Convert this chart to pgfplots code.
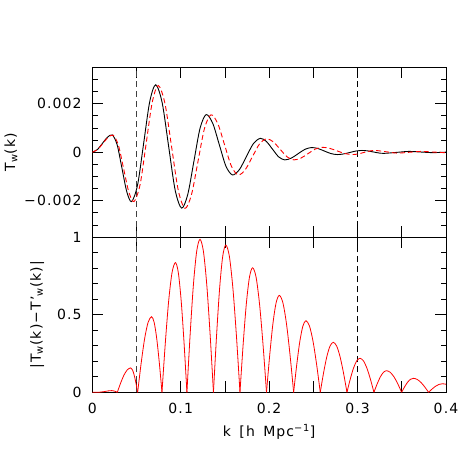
\documentclass[border=0pt]{standalone}
\usepackage{fontspec}
\setmainfont{DejaVu Sans}[LetterSpace=8]
\usepackage{pgfplots}
\pgfplotsset{compat=1.18}
\pgfplotsset{
  myaxis/.style={
    scale only axis, width=353.7bp, xmin=0, xmax=0.4,
    font=\fontsize{14bp}{16bp}\selectfont,
    axis line style={line width=0.8bp, black},
    every tick/.style={line width=0.7bp, black},
    major tick length=11bp, minor tick length=5.5bp,
    tick align=inside,
    xtick={0,0.05,0.1,0.15,0.2,0.25,0.3,0.35,0.4},
    scaled y ticks=false, scaled x ticks=false,
    tick label style={inner sep=0pt},
    yticklabel style={anchor=east, xshift=-10.5bp},
    xticklabel style={anchor=north, yshift=-10.7bp},
    ylabel style={anchor=center},
  },
  arch/.style={red, line width=0.8bp, smooth, mark=none},
}
\begin{document}
\begin{tikzpicture}
\useasboundingbox (0,0) rectangle (463bp,463bp);
% top panel
\begin{axis}[myaxis,
  at={(92.3bp,395.7bp)}, anchor=north west, height=169.7bp,
  ymin=-0.0035, ymax=0.0035,
  ytick={-0.002,0,0.002},
  yticklabels={−0.002,0,0.002},
  minor ytick={-0.003,-0.0025,-0.0015,-0.001,-0.0005,0.0005,0.001,0.0015,0.0025,0.003},
  xticklabels={},
  ylabel={T\textsubscript{w}(k)},
  ylabel style={at={(axis description cs:-0.23,0.5)}},
]
\addplot[black!75, line width=0.8bp, dash pattern=on 6bp off 4bp] coordinates {(0.05,-0.0035) (0.05,0.0035)};
\addplot[black, line width=0.8bp, dash pattern=on 6bp off 4bp] coordinates {(0.3,-0.0035) (0.3,0.0035)};
\addplot[black, line width=0.9bp, smooth, mark=none] coordinates {
(0,0) (0.00565,0.000104) (0.0113,0.000355) (0.01695,0.000606) (0.0226,0.00071)
(0.02808,0.000307) (0.03355,-0.000665) (0.03903,-0.001637) (0.0445,-0.00204)
(0.0513,-0.001334) (0.0581,0.00037) (0.0649,0.002074) (0.0717,0.00278)
(0.07903,0.002035) (0.08635,0.000235) (0.09368,-0.001565) (0.101,-0.00231)
(0.10795,-0.001745) (0.1149,-0.00038) (0.12185,0.000985) (0.1288,0.00155)
(0.13623,0.001185) (0.14365,0.000305) (0.15108,-0.000575) (0.1585,-0.00094)
(0.16638,-0.000719) (0.17425,-0.000185) (0.18213,0.000349) (0.190,0.00057)
(0.19688,0.00044) (0.20375,0.000125) (0.21063,-0.00019) (0.2175,-0.00032)
(0.22513,-0.000245) (0.23275,-0.000065) (0.24038,0.000115) (0.248,0.00019)
(0.25525,0.000148) (0.2625,0.000045) (0.26975,-0.000058) (0.277,-0.0001)
(0.284,-0.000075) (0.291,-0.000015) (0.298,0.000045) (0.305,0.00007)
(0.31125,0.0000524) (0.3175,0.00001) (0.32375,-0.0000324) (0.330,-0.00005)
(0.344,-0.00001) (0.358,0.00003) (0.3715,0.000005) (0.385,-0.00002) (0.4,0)
};
\addplot[red, line width=0.9bp, smooth, mark=none, dash pattern=on 5bp off 3bp] coordinates {
(0,0) (0.00588,0.000102) (0.01175,0.00035) (0.01763,0.000598) (0.0235,0.0007)
(0.02943,0.000299) (0.03535,-0.00067) (0.04128,-0.001639) (0.0472,-0.00204)
(0.05405,-0.001339) (0.0609,0.000355) (0.06775,0.002049) (0.0746,0.00275)
(0.08215,0.002008) (0.0897,0.000215) (0.09725,-0.001578) (0.1048,-0.00232)
(0.11215,-0.001755) (0.1195,-0.00039) (0.12685,0.000975) (0.1342,0.00154)
(0.1419,0.001177) (0.1496,0.0003) (0.1573,-0.000577) (0.165,-0.00094)
(0.173,-0.000722) (0.181,-0.000195) (0.189,0.000332) (0.197,0.00055)
(0.20475,0.000423) (0.2125,0.000115) (0.22025,-0.000193) (0.228,-0.00032)
(0.236,-0.000244) (0.244,-0.00006) (0.252,0.000124) (0.26,0.0002)
(0.2685,0.000156) (0.277,0.00005) (0.2855,-0.000056) (0.294,-0.0001)
(0.3005,-0.000075) (0.307,-0.000015) (0.3135,0.000045) (0.32,0.00007)
(0.3325,0.000015) (0.345,-0.00004) (0.3585,-0.000005) (0.372,0.00003)
(0.385,0.000005) (0.398,-0.00002) (0.4,-0.00002)
};
\end{axis}
% bottom panel
\begin{axis}[myaxis,
  at={(92.3bp,226bp)}, anchor=north west, height=155.3bp,
  ymin=0, ymax=1,
  ytick={0,0.5,1},
  yticklabels={0,0.5,1},
  minor ytick={0.1,0.2,0.3,0.4,0.6,0.7,0.8,0.9},
  xticklabels={0,,0.1,,0.2,,0.3,,0.4},
  ylabel={|T\textsubscript{w}(k)−T'\textsubscript{w}(k)|},
  ylabel style={at={(axis description cs:-0.156,0.5)}},
  xlabel={k\hspace{0.6em}[h\hspace{0.6em}Mpc\textsuperscript{−1}]},
  xlabel style={at={(axis description cs:0.5,-0.256)}, anchor=center},
]
\addplot[black!75, line width=0.8bp, dash pattern=on 6bp off 4bp] coordinates {(0.05,0) (0.05,1)};
\addplot[black, line width=0.8bp, dash pattern=on 6bp off 4bp] coordinates {(0.3,0) (0.3,1)};
\addplot[arch] coordinates {(0,0) (0.008,0.0005) (0.013,0.004) (0.018,0.009) (0.022,0.011) (0.025,0.008) (0.0283,0)};
\addplot[arch] coordinates {(0.0283,0) (0.03208,0.0601) (0.03585,0.1110) (0.03963,0.1451) (0.0434,0.157) (0.04538,0.1451) (0.04735,0.1110) (0.04933,0.0601) (0.0513,0)};
\addplot[arch] coordinates {(0.0513,0) (0.05523,0.1864) (0.05915,0.3444) (0.06308,0.4499) (0.067,0.487) (0.06995,0.4499) (0.0729,0.3444) (0.07585,0.1864) (0.0788,0)};
\addplot[arch] coordinates {(0.0788,0) (0.0826,0.3196) (0.0864,0.5904) (0.0902,0.7715) (0.094,0.835) (0.09725,0.7715) (0.1005,0.5904) (0.10375,0.3196) (0.107,0)};
\addplot[arch] coordinates {(0.107,0) (0.1107,0.3770) (0.1144,0.6965) (0.1181,0.9100) (0.1218,0.985) (0.1256,0.9100) (0.1294,0.6965) (0.1332,0.3770) (0.137,0)};
\addplot[arch] coordinates {(0.137,0) (0.1405,0.3628) (0.144,0.6703) (0.1475,0.8759) (0.151,0.948) (0.155,0.8759) (0.159,0.6703) (0.163,0.3628) (0.167,0)};
\addplot[arch] coordinates {(0.167,0) (0.17058,0.3069) (0.17415,0.5671) (0.17773,0.7410) (0.1813,0.802) (0.18523,0.7410) (0.18915,0.5671) (0.19308,0.3069) (0.197,0)};
\addplot[arch] coordinates {(0.197,0) (0.20063,0.2388) (0.20425,0.4412) (0.20788,0.5765) (0.2115,0.624) (0.21555,0.5765) (0.2196,0.4412) (0.22365,0.2388) (0.2277,0)};
\addplot[arch] coordinates {(0.2277,0) (0.23118,0.1764) (0.23465,0.3260) (0.23813,0.4259) (0.2416,0.461) (0.24565,0.4259) (0.2497,0.3260) (0.25375,0.1764) (0.2578,0)};
\addplot[arch] coordinates {(0.2578,0) (0.26148,0.1232) (0.26515,0.2277) (0.26883,0.2975) (0.2725,0.322) (0.27638,0.2975) (0.28025,0.2277) (0.28413,0.1232) (0.288,0)};
\addplot[arch] coordinates {(0.288,0) (0.29168,0.0838) (0.29535,0.1549) (0.29903,0.2023) (0.3027,0.219) (0.30665,0.2023) (0.3106,0.1549) (0.31455,0.0838) (0.3185,0)};
\addplot[arch] coordinates {(0.3185,0) (0.32208,0.0532) (0.32565,0.0983) (0.32923,0.1284) (0.3328,0.139) (0.337,0.1284) (0.3413,0.0983) (0.3456,0.0532) (0.3498,0)};
\addplot[arch] coordinates {(0.3498,0) (0.3531,0.0344) (0.3564,0.0636) (0.3597,0.0832) (0.363,0.090) (0.36733,0.0832) (0.37165,0.0636) (0.37598,0.0344) (0.3803,0)};
\addplot[arch] coordinates {(0.3803,0) (0.38423,0.0210) (0.38815,0.0389) (0.39208,0.0508) (0.396,0.055) (0.4,0.052)};
\end{axis}
\end{tikzpicture}
\end{document}
